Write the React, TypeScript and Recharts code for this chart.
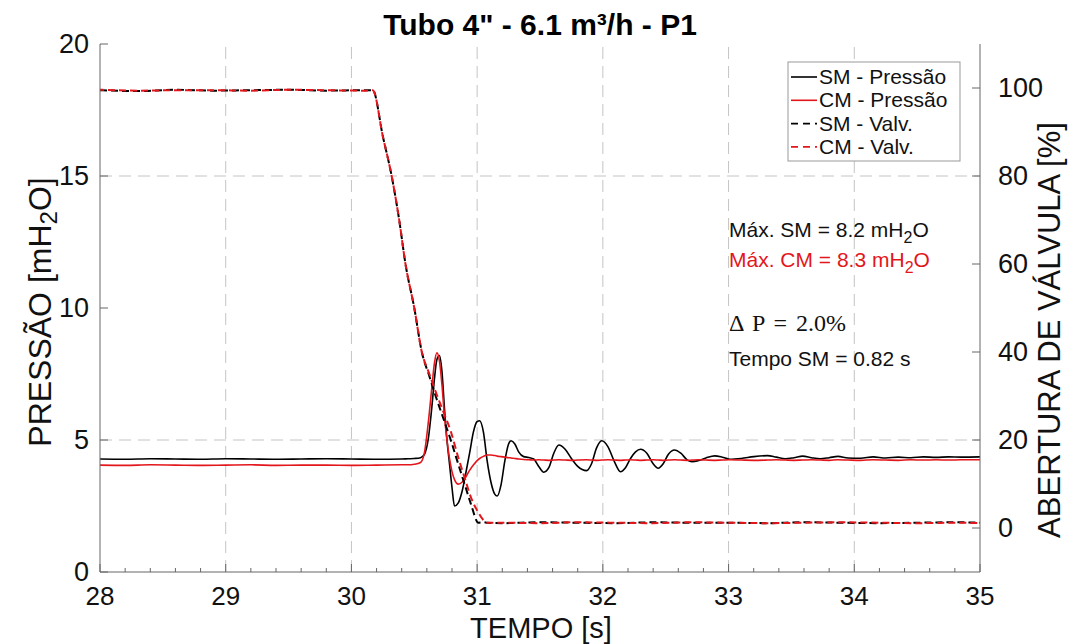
import React from "react";
import { ComposedChart, Line, XAxis, YAxis, ReferenceLine } from "recharts";

// ---- data ----
// pressure curves (left axis, mH2O)
const pressTime = [
  28.0, 28.2, 28.4, 28.6, 28.8, 29.0, 29.2, 29.4, 29.6, 29.8, 30.0, 30.2, 30.4, 30.45, 30.5, 30.55,
  30.58, 30.61, 30.64, 30.66, 30.68, 30.7, 30.72, 30.74, 30.76, 30.78, 30.8, 30.82, 30.85, 30.88,
  30.91, 30.94, 30.97, 31.0, 31.02, 31.05, 31.08, 31.11, 31.14, 31.16, 31.19, 31.22, 31.25, 31.27,
  31.3, 31.33, 31.37, 31.41, 31.45, 31.49, 31.53, 31.57, 31.61, 31.65, 31.7, 31.75, 31.8, 31.87,
  31.91, 31.95, 31.99, 32.04, 32.09, 32.14, 32.18, 32.22, 32.26, 32.3, 32.35, 32.4, 32.44, 32.48,
  32.52, 32.57, 32.62, 32.67, 32.71, 32.76, 32.82, 32.89, 32.95, 33.01, 33.1, 33.2, 33.31, 33.38,
  33.45, 33.52, 33.59, 33.66, 33.73, 33.8, 33.87, 33.95, 34.05, 34.15, 34.25, 34.35, 34.45, 34.55,
  34.65, 34.75, 34.85, 35.0,
];
const smPressure = [
  4.28, 4.27, 4.29, 4.28, 4.27, 4.29, 4.28, 4.27, 4.28, 4.29, 4.28, 4.27, 4.28, 4.29, 4.3, 4.33,
  4.45, 5.0, 6.26, 7.3, 8.05, 8.2, 7.6, 6.2, 5.0, 4.1, 3.2, 2.5, 2.62,
  3.05, 3.75, 4.5, 5.3, 5.7, 5.73, 5.3, 4.2, 3.4, 2.95, 2.88, 3.3, 4.2, 4.85, 4.97,
  4.85, 4.55, 4.37, 4.34, 4.28, 4.0, 3.78, 3.95, 4.5, 4.81, 4.65, 4.3, 4.0, 3.84,
  4.1, 4.7, 4.97, 4.75, 4.2, 3.8, 3.95, 4.3, 4.55, 4.65, 4.5, 4.1, 3.93, 4.1,
  4.45, 4.62, 4.5, 4.25, 4.18, 4.22, 4.32, 4.4, 4.35, 4.27, 4.3, 4.37, 4.41, 4.35,
  4.29, 4.33, 4.39, 4.33, 4.29, 4.33, 4.38, 4.32, 4.31, 4.36, 4.32, 4.35, 4.33, 4.36,
  4.34, 4.36, 4.35, 4.36,
];
const cmPressure = [
  4.05, 4.04, 4.06, 4.05, 4.04, 4.05, 4.06, 4.04, 4.05, 4.05, 4.04, 4.05, 4.06, 4.06, 4.08, 4.15,
  4.5, 5.6, 7.0, 7.9, 8.3, 8.0, 7.1, 5.9, 5.0, 4.3, 3.8, 3.5, 3.33,
  3.4, 3.6, 3.85, 4.05, 4.22, 4.3, 4.38, 4.43, 4.43, 4.41, 4.39, 4.37, 4.35, 4.33, 4.32,
  4.3, 4.28, 4.26, 4.25, 4.24, 4.25, 4.24, 4.23, 4.24, 4.25, 4.24, 4.23, 4.24, 4.25,
  4.24, 4.23, 4.24, 4.25, 4.24, 4.23, 4.24, 4.25, 4.24, 4.23, 4.24, 4.25, 4.24, 4.23,
  4.24, 4.25, 4.24, 4.23, 4.24, 4.25, 4.24, 4.23, 4.24, 4.25, 4.24, 4.23, 4.24, 4.25,
  4.24, 4.23, 4.24, 4.25, 4.24, 4.23, 4.25, 4.24, 4.23, 4.25, 4.24, 4.23, 4.25, 4.24,
  4.25, 4.24, 4.25, 4.25,
];

// valve opening (right axis, %)
const valveTime = [
  28.0, 28.3, 28.6, 28.9, 29.2, 29.5, 29.8, 30.1, 30.17, 30.25, 30.32, 30.38, 30.43, 30.5, 30.56,
  30.62, 30.67, 30.73, 30.79, 30.85, 30.9, 30.95, 31.01, 31.05, 31.08, 31.2, 31.5, 31.8, 32.1,
  32.4, 32.7, 33.0, 33.3, 33.6, 33.9, 34.2, 34.5, 34.8, 35.0,
];
const smValve = [
  99.5, 99.3, 99.6, 99.4, 99.5, 99.6, 99.4, 99.5, 99.5, 89, 80, 70, 60, 50, 40,
  34.5, 30, 25, 20, 14.5, 10, 5.5, 1.2, 1.3, 1.2, 1.1, 1.3, 1.2, 1.1,
  1.3, 1.2, 1.2, 1.1, 1.3, 1.2, 1.1, 1.2, 1.3, 1.2,
];
const cmValve = [
  99.6, 99.4, 99.5, 99.5, 99.4, 99.6, 99.5, 99.4, 99.5, 89, 80, 70, 60, 50, 40,
  35, 31, 26.5, 22, 16, 11.5, 7, 3.5, 1.8, 1.2, 1.2, 1.1, 1.3, 1.2,
  1.1, 1.3, 1.2, 1.1, 1.2, 1.3, 1.2, 1.1, 1.2, 1.1,
];

const xMajor = [28, 29, 30, 31, 32, 33, 34, 35];
const xGrid = [29, 30, 31, 32, 33, 34];
const yLeftTicks = [0, 5, 10, 15, 20];
const yRightTicks = [0, 20, 40, 60, 80, 100];
const yGrid = [5, 15];

const RED = "#e3161c";
const AXIS = "#666";
const FONT = "'Liberation Sans', Arial, sans-serif";

const toRows = (t: number[], v: number[]) => t.map((x, i) => ({ t: x, v: v[i] }));
const xAllTicks = xMajor.flatMap((m, i) =>
  i < xMajor.length - 1 ? [m, m + 0.2, m + 0.4, m + 0.6, m + 0.8] : [m]
).map((v) => Math.round(v * 10) / 10);

const series = [
  { name: "SM - Pressão", data: toRows(pressTime, smPressure), color: "#000", axis: "left", dash: undefined, off: 0 },
  { name: "CM - Pressão", data: toRows(pressTime, cmPressure), color: RED, axis: "left", dash: undefined, off: 0 },
  { name: "SM - Valv.", data: toRows(valveTime, smValve), color: "#000", axis: "right", dash: "7 4", off: 0 },
  { name: "CM - Valv.", data: toRows(valveTime, cmValve), color: RED, axis: "right", dash: "7 4", off: 3 },
];

const BottomTick = (p: any) => {
  const v = p.payload.value;
  const major = Math.abs(v - Math.round(v)) < 1e-6;
  return (
    <g>
      <line x1={p.x} x2={p.x} y1={p.y} y2={p.y - (major ? 8 : 4)} stroke={AXIS} />
      {major && (
        <text x={p.x} y={p.y + 33} textAnchor="middle" fontSize={26} fontFamily={FONT} fill="#111">
          {v}
        </text>
      )}
    </g>
  );
};
const TopTick = (p: any) => {
  const v = p.payload.value;
  const major = Math.abs(v - Math.round(v)) < 1e-6;
  return <line x1={p.x} x2={p.x} y1={p.y} y2={p.y + (major ? 8 : 4)} stroke={AXIS} />;
};
const LeftTick = (p: any) => (
  <g>
    <line x1={p.x} x2={p.x + 8} y1={p.y} y2={p.y} stroke={AXIS} />
    <text x={p.x - 11} y={p.y + 9} textAnchor="end" fontSize={27} fontFamily={FONT} fill="#111">
      {p.payload.value}
    </text>
  </g>
);
const RightTick = (p: any) => (
  <g>
    <line x1={p.x} x2={p.x - 8} y1={p.y} y2={p.y} stroke={AXIS} />
    <text x={p.x + 18} y={p.y + 9} textAnchor="start" fontSize={27} fontFamily={FONT} fill="#111">
      {p.payload.value}
    </text>
  </g>
);

export default function App() {
  return (
    <div style={{ position: "absolute", left: 0, top: 0, width: 1073, height: 644, background: "#fff" }}>
      <ComposedChart width={1073} height={644} margin={{ top: 44, right: 33, bottom: 32, left: 40 }}>
        <XAxis
          xAxisId="b"
          dataKey="t"
          type="number"
          domain={[28, 35]}
          allowDataOverflow
          ticks={xAllTicks}
          interval={0}
          height={40}
          tickSize={0}
          tickMargin={0}
          tickLine={false}
          tick={BottomTick}
          axisLine={{ stroke: AXIS }}
        />
        <XAxis
          xAxisId="t"
          orientation="top"
          type="number"
          domain={[28, 35]}
          allowDataOverflow
          ticks={xAllTicks}
          interval={0}
          height={0}
          tickSize={0}
          tickMargin={0}
          tickLine={false}
          tick={TopTick}
          axisLine={{ stroke: AXIS }}
        />
        <YAxis
          yAxisId="left"
          type="number"
          domain={[0, 20]}
          allowDataOverflow
          ticks={yLeftTicks}
          interval={0}
          width={60}
          tickSize={0}
          tickMargin={0}
          tickLine={false}
          tick={LeftTick}
          axisLine={{ stroke: AXIS }}
        />
        <YAxis
          yAxisId="right"
          orientation="right"
          type="number"
          domain={[-10, 110]}
          allowDataOverflow
          ticks={yRightTicks}
          interval={0}
          width={60}
          tickSize={0}
          tickMargin={0}
          tickLine={false}
          tick={RightTick}
          axisLine={{ stroke: AXIS }}
        />
        {xGrid.map((x) => (
          <ReferenceLine key={"gx" + x} x={x} xAxisId="b" yAxisId="left" stroke="#c4c4c4" strokeDasharray="12 7" />
        ))}
        {yGrid.map((y) => (
          <ReferenceLine key={"gy" + y} y={y} xAxisId="b" yAxisId="left" stroke="#c4c4c4" strokeDasharray="12 7" />
        ))}
        {series.map((s) => (
          <Line
            key={s.name}
            xAxisId="b"
            yAxisId={s.axis}
            data={s.data}
            dataKey="v"
            name={s.name}
            type="monotone"
            stroke={s.color}
            strokeWidth={s.dash ? 2 : 1.6}
            strokeDasharray={s.dash}
            strokeDashoffset={s.off}
            dot={false}
            activeDot={false}
            isAnimationActive={false}
          />
        ))}
      </ComposedChart>

      <svg
        width={1073}
        height={644}
        style={{ position: "absolute", left: 0, top: 0, pointerEvents: "none", fontFamily: FONT }}
      >
        <text x={540} y={35} textAnchor="middle" fontSize={30} fontWeight="bold" fill="#000">
          Tubo 4" - 6.1 m³/h - P1
        </text>
        <text x={541} y={638} textAnchor="middle" fontSize={29} fill="#111">
          TEMPO [s]
        </text>
        <text transform="translate(51,312) rotate(-90)" textAnchor="middle" fontSize={32} fill="#111">
          PRESSÃO [mH<tspan dy={6} fontSize={24}>2</tspan>
          <tspan dy={-6}>O]</tspan>
        </text>
        <text transform="translate(1060,330) rotate(-90)" textAnchor="middle" fontSize={31} fill="#111">
          ABERTURA DE VÁLVULA [%]
        </text>

        <text x={729} y={237} fontSize={21} fill="#111">
          Máx. SM = 8.2 mH<tspan dy={6} fontSize={16}>2</tspan>
          <tspan dy={-6}>O</tspan>
        </text>
        <text x={729} y={267} fontSize={21} fill={RED}>
          Máx. CM = 8.3 mH<tspan dy={6} fontSize={16}>2</tspan>
          <tspan dy={-6}>O</tspan>
        </text>
        <text
          x={729}
          y={331}
          fontSize={24}
          wordSpacing={3}
          fontFamily="'Liberation Serif', 'DejaVu Serif', serif"
          fill="#111"
        >
          Δ P = 2.0%
        </text>
        <text x={729} y={366} fontSize={21} fill="#111">
          Tempo SM = 0.82 s
        </text>

        <rect x={788} y={62} width={172} height={99} fill="#fff" stroke="#999" />
        {series.map((s, i) => {
          const by = 84 + i * 23.3;
          return (
            <g key={s.name}>
              <line x1={791} x2={817} y1={by - 7} y2={by - 7} stroke={s.color} strokeWidth={1.6} strokeDasharray={s.dash ? "7 5" : undefined} />
              <text x={819} y={by} fontSize={21} fill="#111">
                {s.name}
              </text>
            </g>
          );
        })}
      </svg>
    </div>
  );
}
